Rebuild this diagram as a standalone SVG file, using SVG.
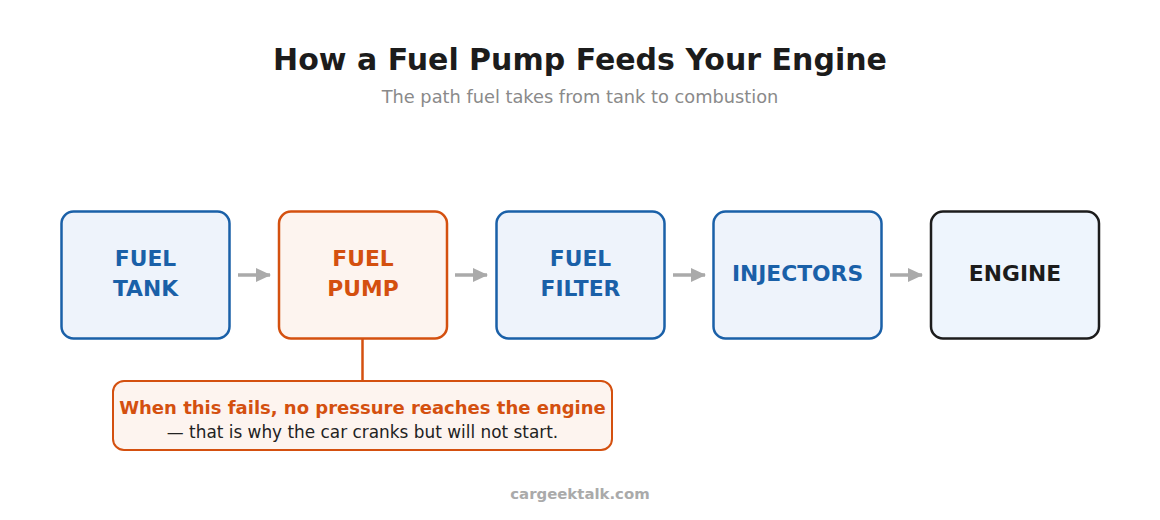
<svg xmlns="http://www.w3.org/2000/svg" width="1160" height="520" viewBox="0 0 1160 520">
<defs>
<style>
.title{font-family:"DejaVu Sans",sans-serif;font-weight:bold;font-size:30px;fill:#1c1c1c;text-anchor:middle}
.sub{font-family:"DejaVu Sans",sans-serif;font-size:17.8px;fill:#8a8a8a;text-anchor:middle}
.box{stroke-width:2.5}
.blue rect{fill:#eef3fb;stroke:#1a60a8}
.blue text{fill:#1a60a8}
.orange rect{fill:#fdf4ef;stroke:#d4500f}
.orange text{fill:#d4500f}
.dark rect{fill:#eef5fd;stroke:#1c1c1c}
.dark text{fill:#1c1c1c}
.lbl{font-family:"DejaVu Sans",sans-serif;font-weight:bold;font-size:21.8px;text-anchor:middle}
.arrow{stroke:#aaaaaa;stroke-width:3.5;fill:none}
.foot{font-family:"DejaVu Sans",sans-serif;font-weight:bold;font-size:14.9px;fill:#aaaaaa;text-anchor:middle}
</style>
<marker id="ah" viewBox="0 0 15 14" refX="14" refY="7" markerWidth="15" markerHeight="14" markerUnits="userSpaceOnUse" orient="auto">
<path d="M0,0 L15,7 L0,14 z" fill="#aaaaaa"/>
</marker>
</defs>
<rect width="1160" height="520" fill="#ffffff"/>
<text class="title" x="580" y="70">How a Fuel Pump Feeds Your Engine</text>
<text class="sub" x="580" y="103">The path fuel takes from tank to combustion</text>

<g id="connectors">
<line class="arrow" x1="238" y1="275" x2="270" y2="275" marker-end="url(#ah)"/>
<line class="arrow" x1="455" y1="275" x2="487" y2="275" marker-end="url(#ah)"/>
<line class="arrow" x1="673" y1="275" x2="705" y2="275" marker-end="url(#ah)"/>
<line class="arrow" x1="890" y1="275" x2="922" y2="275" marker-end="url(#ah)"/>
<line x1="362.5" y1="339" x2="362.5" y2="381" stroke="#d4500f" stroke-width="2.5"/>
</g>

<g id="fuel-tank" class="blue">
<rect class="box" x="61.5" y="211.5" width="168" height="127" rx="12"/>
<text class="lbl" x="145.5" y="266">FUEL</text>
<text class="lbl" x="145.5" y="296">TANK</text>
</g>
<g id="fuel-pump" class="orange">
<rect class="box" x="279" y="211.5" width="168" height="127" rx="12"/>
<text class="lbl" x="363" y="266">FUEL</text>
<text class="lbl" x="363" y="296">PUMP</text>
</g>
<g id="fuel-filter" class="blue">
<rect class="box" x="496.5" y="211.5" width="168" height="127" rx="12"/>
<text class="lbl" x="580.5" y="266">FUEL</text>
<text class="lbl" x="580.5" y="296">FILTER</text>
</g>
<g id="injectors" class="blue">
<rect class="box" x="713.5" y="211.5" width="168" height="127" rx="12"/>
<text class="lbl" x="797.5" y="281">INJECTORS</text>
</g>
<g id="engine" class="dark">
<rect class="box" x="931" y="211.5" width="168" height="127" rx="12"/>
<text class="lbl" x="1015" y="281">ENGINE</text>
</g>

<g id="callout">
<rect x="113" y="381" width="499" height="69" rx="11" fill="#fdf4ef" stroke="#d4500f" stroke-width="2"/>
<text x="362.5" y="414" font-family="DejaVu Sans,sans-serif" font-weight="bold" font-size="18px" fill="#d4500f" text-anchor="middle">When this fails, no pressure reaches the engine</text>
<text x="362.5" y="438" font-family="DejaVu Sans,sans-serif" font-size="16.9px" fill="#222222" text-anchor="middle">— that is why the car cranks but will not start.</text>
</g>

<text class="foot" x="580" y="499">cargeektalk.com</text>
</svg>
